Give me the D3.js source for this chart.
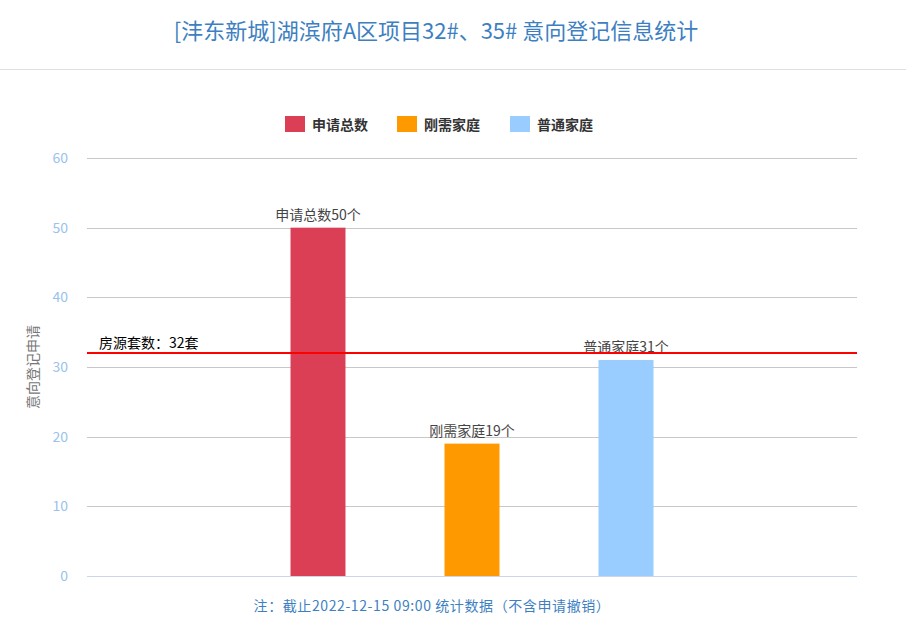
<!DOCTYPE html>
<html><head><meta charset="utf-8">
<script src="https://cdn.jsdelivr.net/npm/d3@7"></script>
<style>body{margin:0;background:#fff;font-family:"Noto Sans CJK SC",sans-serif}</style>
</head><body><svg id="c" width="906" height="641"></svg>
<script>
const categories=["申请总数","刚需家庭","普通家庭"];
const values=[50,19,31];
const colors=["#db3f56","#ff9900","#99ccff"];
const labels=["申请总数50个","刚需家庭19个","普通家庭31个"];
const yTicks=[0,10,20,30,40,50,60];
const refValue=32, refLabel="房源套数：32套";
const svg=d3.select("#c");
const font='"Noto Sans CJK SC",sans-serif';
svg.append("text").attr("x",436).attr("y",39).attr("text-anchor","middle").attr("font-family",font)
 .attr("font-size",22).attr("fill","#3e7fc1").text("[沣东新城]湖滨府A区项目32#、35# 意向登记信息统计");
svg.append("line").attr("x1",0).attr("x2",906).attr("y1",69.5).attr("y2",69.5).attr("stroke","#e0e0e0");
const y=d3.scaleLinear().domain([0,60]).range([576,158]);
const x=d3.scaleBand().domain(categories).range([241,703]).paddingInner(0.643).paddingOuter(0.3215);
const g=svg.append("g");
g.selectAll("line.grid").data(yTicks).join("line").attr("x1",87).attr("x2",857)
 .attr("y1",d=>Math.round(y(d))+0.5).attr("y2",d=>Math.round(y(d))+0.5).attr("stroke",d=>d===0?"#ccd6eb":"#c8c8c8");
g.selectAll("text.yt").data(yTicks).join("text").attr("x",68).attr("y",d=>y(d)+5).attr("text-anchor","end")
 .attr("font-family",font).attr("font-size",14).attr("fill","#99c2ee").text(d=>d);
svg.append("text").attr("transform","translate(38,367) rotate(-90)").attr("text-anchor","middle")
 .attr("font-family",font).attr("font-size",14).attr("fill","#777").text("意向登记申请");
g.selectAll("rect.bar").data(values).join("rect").attr("x",(d,i)=>x(categories[i])).attr("width",x.bandwidth())
 .attr("y",d=>y(d)).attr("height",d=>y(0)-y(d)).attr("fill",(d,i)=>colors[i]);
g.selectAll("text.bl").data(values).join("text").attr("x",(d,i)=>x(categories[i])+x.bandwidth()/2).attr("y",d=>y(d)-8)
 .attr("text-anchor","middle").attr("font-family",font).attr("font-size",14).attr("fill","#444").text((d,i)=>labels[i]);
svg.append("line").attr("x1",87).attr("x2",857).attr("y1",y(refValue)).attr("y2",y(refValue)).attr("stroke","#ff0000").attr("stroke-width",2);
svg.append("text").attr("x",99).attr("y",y(refValue)-5).attr("font-family",font).attr("font-size",14).attr("fill","#000").text(refLabel);
const lx=[285,397,510];
const lg=svg.selectAll("g.lg").data(categories).join("g").attr("transform",(d,i)=>`translate(${lx[i]},116)`);
lg.append("rect").attr("width",20).attr("height",16).attr("fill",(d,i)=>colors[i]);
lg.append("text").attr("x",27).attr("y",14).attr("font-family",font).attr("font-size",14).attr("font-weight","bold").attr("fill","#333").text(d=>d);
svg.append("text").attr("x",432).attr("y",611).attr("text-anchor","middle").attr("font-family",font).attr("font-size",14)
 .attr("letter-spacing",0.6).attr("fill","#3e7fc1").text("注：截止2022-12-15 09:00 统计数据（不含申请撤销）");
</script></body></html>
